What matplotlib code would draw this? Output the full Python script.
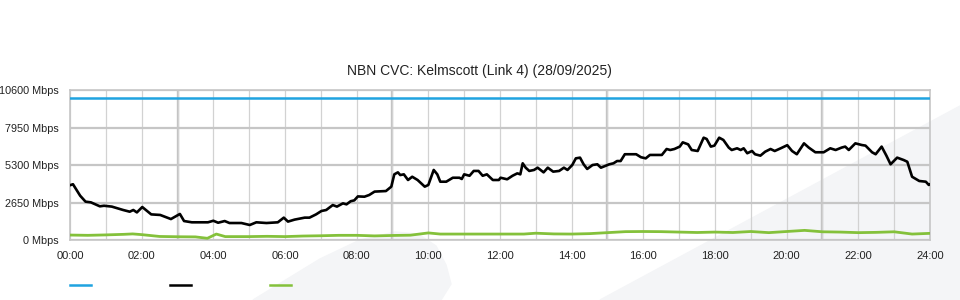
import matplotlib.pyplot as plt
from matplotlib.patches import Polygon
from matplotlib.lines import Line2D
import numpy as np

plt.rcParams['font.family'] = ['Liberation Sans', 'DejaVu Sans']

# --- données ---
title = "NBN CVC: Kelmscott (Link 4) (28/09/2025)"

capacity_times = ["00:00", "24:00"]
capacity_mbps = [10000, 10000]

download_times = [
    "00:00", "00:05", "00:17", "00:26", "00:35", "00:50", "00:57", "01:10", "01:29", "01:40",
    "01:46", "01:52", "02:01", "02:16", "02:31", "02:49", "03:04", "03:11", "03:24", "03:51",
    "04:00", "04:08", "04:19", "04:27", "04:47", "05:01", "05:12", "05:29", "05:48", "05:58",
    "06:05", "06:16", "06:33", "06:41", "06:52", "07:01", "07:09", "07:20", "07:27", "07:37",
    "07:43", "07:50", "07:56", "08:02", "08:13", "08:21", "08:30", "08:49", "08:58", "09:03",
    "09:09", "09:13", "09:19", "09:26", "09:33", "09:42", "09:54", "10:00", "10:09", "10:15",
    "10:20", "10:30", "10:41", "10:52", "10:56", "11:00", "11:09", "11:16", "11:24", "11:31",
    "11:38", "11:48", "11:58", "12:01", "12:12", "12:21", "12:29", "12:34", "12:38", "12:43",
    "12:49", "12:57", "13:03", "13:13", "13:20", "13:29", "13:39", "13:47", "13:53", "14:01",
    "14:07", "14:14", "14:20", "14:26", "14:35", "14:43", "14:49", "15:03", "15:10", "15:16",
    "15:22", "15:29", "15:39", "15:48", "15:56", "16:04", "16:11", "16:31", "16:39", "16:45",
    "16:52", "17:01", "17:06", "17:15", "17:21", "17:31", "17:41", "17:46", "17:53", "17:59",
    "18:07", "18:14", "18:23", "18:28", "18:37", "18:43", "18:48", "18:54", "19:02", "19:07",
    "19:16", "19:24", "19:33", "19:40", "19:50", "20:01", "20:09", "20:17", "20:29", "20:37",
    "20:48", "21:02", "21:13", "21:22", "21:32", "21:38", "21:44", "21:55", "22:06", "22:12",
    "22:23", "22:29", "22:39", "22:47", "22:54", "23:05", "23:16", "23:22", "23:30", "23:42",
    "23:53", "23:58", "24:00",
]
download_mbps = [
    3870, 3940, 3130, 2710, 2660, 2380, 2420, 2360, 2120, 2000,
    2120, 1950, 2330, 1810, 1770, 1480, 1840, 1340, 1250, 1250,
    1360, 1220, 1340, 1200, 1200, 1060, 1250, 1200, 1250, 1580,
    1300, 1440, 1580, 1580, 1810, 2050, 2120, 2470, 2360, 2590,
    2520, 2740, 2800, 3080, 3060, 3180, 3420, 3460, 3770, 4640,
    4780, 4590, 4640, 4240, 4470, 4240, 3770, 3890, 4950, 4640,
    4120, 4120, 4400, 4400, 4310, 4640, 4540, 4880, 4880, 4540,
    4640, 4240, 4240, 4400, 4290, 4540, 4710, 4640, 5420, 5110,
    4880, 4950, 5110, 4780, 5110, 4830, 4880, 5110, 4950, 5300,
    5770, 5820, 5350, 5020, 5300, 5350, 5110, 5350, 5420, 5580,
    5580, 6060, 6060, 6060, 5850, 5770, 6010, 6010, 6430, 6360,
    6430, 6600, 6900, 6760, 6360, 6290, 7230, 7140, 6600, 6670,
    7230, 7070, 6530, 6360, 6480, 6360, 6480, 6130, 6290, 6060,
    5960, 6240, 6430, 6290, 6480, 6700, 6290, 6060, 6830, 6530,
    6200, 6200, 6480, 6360, 6530, 6600, 6360, 6830, 6710, 6670,
    6200, 6060, 6600, 5960, 5350, 5820, 5650, 5530, 4470, 4170,
    4120, 3890, 3940,
]

upload_times = [
    "00:00", "00:30", "01:00", "01:30", "01:45", "02:00", "02:30", "03:00", "03:30", "03:50",
    "04:05", "04:20", "05:00", "05:30", "06:00", "06:30", "07:00", "07:30", "08:00", "08:30",
    "09:00", "09:30", "10:00", "10:20", "11:00", "12:00", "12:40", "13:00", "13:30", "14:00",
    "14:30", "15:00", "15:30", "16:00", "16:30", "17:00", "17:30", "18:00", "18:30", "19:00",
    "19:30", "20:00", "20:30", "21:00", "21:30", "22:00", "22:30", "23:00", "23:30", "24:00",
]
upload_mbps = [
    350, 330, 360, 400, 430, 380, 250, 230, 220, 120,
    420, 240, 240, 260, 240, 280, 300, 330, 330, 290,
    320, 340, 500, 420, 420, 420, 420, 480, 430, 420,
    450, 520, 590, 600, 590, 560, 530, 560, 530, 600,
    520, 600, 680, 580, 560, 520, 540, 580, 420, 470,
]

y_ticks = [0, 2650, 5300, 7950, 10600]
x_tick_labels = ["00:00", "02:00", "04:00", "06:00", "08:00", "10:00", "12:00",
                 "14:00", "16:00", "18:00", "20:00", "22:00", "24:00"]


def to_hours(labels):
    return np.array([int(t[:2]) + int(t[3:]) / 60 for t in labels])


blue = '#1fa3e0'
green = '#84c13b'
grid = '#c6c6c6'

fig = plt.figure(figsize=(9.6, 3), dpi=100)
W, H = 960, 300

# filigrane gris clair en fond
def px(points):
    return [(x / W, 1 - y / H) for x, y in points]

fig.patches.append(Polygon(px([(253, 300), (320, 259), (360, 240), (395, 232), (418, 234),
                               (436, 246), (446, 265), (451, 284), (441, 300)]),
                           closed=True, transform=fig.transFigure, color='#f4f5f7', zorder=-10))
fig.patches.append(Polygon(px([(600, 300), (960, 106), (960, 300)]),
                           closed=True, transform=fig.transFigure, color='#f4f5f7', zorder=-10))

ax = fig.add_axes([70 / W, 1 - 240 / H, 860 / W, 150 / H])
ax.set_facecolor('none')
ax.set_zorder(1)

ax.plot(to_hours(capacity_times), capacity_mbps, color=blue, lw=1.8, zorder=4)
ax.plot(to_hours(upload_times), upload_mbps, color=green, lw=2.0, zorder=4)
ax.plot(to_hours(download_times), download_mbps, color='black', lw=1.9, zorder=5)

ax.set_xlim(0, 24)
ax.set_ylim(0, 10600)
ax.set_xticks(np.arange(0, 25, 2))
ax.set_xticklabels(x_tick_labels)
ax.set_xticks(np.arange(0, 25, 1), minor=True)
ax.set_yticks(y_ticks)
ax.set_yticklabels([f"{v} Mbps" for v in y_ticks])

ax.grid(axis='y', color=grid, lw=1.6, zorder=1)
ax.grid(axis='x', which='both', color='#d2d2d2', lw=0.9, zorder=1)
for h in [3, 9, 15, 21]:
    ax.axvline(h, color='#c2c2c2', lw=1.7, zorder=1)

for s in ax.spines.values():
    s.set_color(grid)
    s.set_linewidth(1.2)

ax.tick_params(axis='both', which='both', length=0, labelsize=8, colors='#222222')
ax.tick_params(axis='y', labelsize=7.8, pad=8)
ax.tick_params(axis='x', pad=8)

fig.text(0.499, 1 - 71 / H, title, ha='center', va='center', fontsize=10, color='#222222')

# légende sans texte, juste les traits
legend_colors = [blue, 'black', green]
for i, c in enumerate(legend_colors):
    x0 = 70 + i * 100
    fig.add_artist(Line2D([x0 / W, (x0 + 21) / W], [1 - 285 / H, 1 - 285 / H],
                          transform=fig.transFigure, color=c, lw=1.8))

fig.savefig('out.png', dpi=100)
